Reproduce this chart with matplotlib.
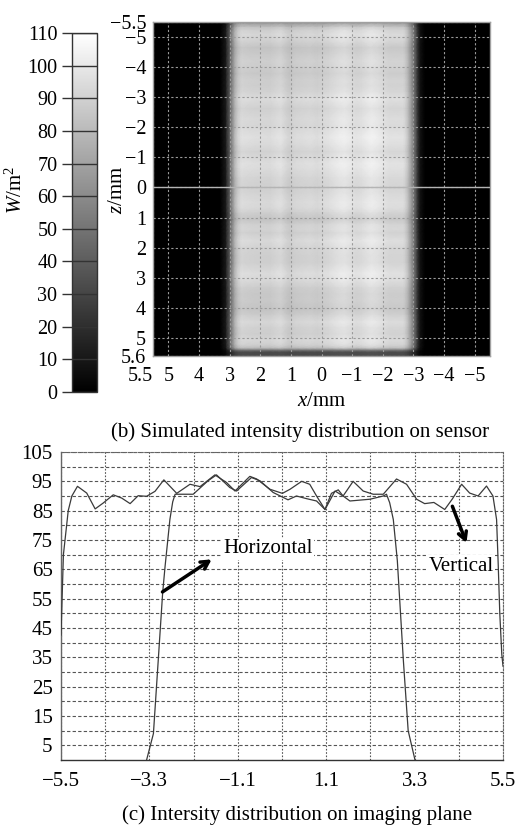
import numpy as np
import matplotlib
matplotlib.use('Agg')
import matplotlib.pyplot as plt
from matplotlib.colors import Normalize

plt.rcParams['font.family'] = ['Liberation Serif', 'DejaVu Serif']
plt.rcParams['mathtext.fontset'] = 'custom'
plt.rcParams['mathtext.rm'] = 'Liberation Serif'
plt.rcParams['mathtext.it'] = 'Liberation Serif:italic'

# ---------------- data ----------------
# Vertical profile (along z)
vert_pos = [-5.5, -5.44, -5.32, -5.23, -5.09, -4.86, -4.65, -4.45, -4.2, -3.99,
            -3.78, -3.58, -3.37, -3.16, -2.94, -2.62, -2.29, -2.04, -1.67, -1.38,
            -1.17, -0.8, -0.63, -0.3, 0.01, 0.2, 0.49, 0.69, 0.86, 1.07,
            1.23, 1.4, 1.52, 1.77, 2.02, 2.27, 2.52, 2.85, 3.1, 3.35,
            3.55, 3.78, 4.05, 4.24, 4.47, 4.67, 4.88, 5.09, 5.25, 5.34,
            5.38, 5.42, 5.47, 5.5]
vert_val = [42.6, 70, 85, 90, 93.3, 91, 85.6, 87.6, 90.4, 89.3,
            87.4, 90.1, 89.9, 91.6, 95.5, 90.9, 94.0, 93.2, 97.2, 94.6,
            91.7, 96.7, 95.8, 92.3, 90.9, 92.3, 95.0, 94.0, 90.0, 85.4,
            90.9, 92.1, 90.0, 95.0, 91.7, 90.6, 90.6, 95.8, 94.0, 88.9,
            87.4, 87.8, 85.4, 89.0, 94.0, 91.0, 90.0, 93.4, 90.0, 82.0,
            67.0, 50.0, 36.0, 32.0]

# Horizontal profile (along x)
horiz_pos = [-3.37, -3.2, -3.08, -2.97, -2.91, -2.85, -2.79, -2.72, -2.66, -2.21,
             -1.84, -1.63, -1.3, -1.13, -0.76, -0.55, -0.22, 0.15, 0.36, 0.61,
             0.86, 1.07, 1.32, 1.52, 1.69, 2.19, 2.52, 2.6, 2.68, 2.77,
             2.87, 3.02, 3.14, 3.31]
horiz_val = [0, 9, 34, 57, 66, 74, 82, 88, 90.6, 90.6,
             95.2, 97.2, 92.9, 91.7, 96.3, 95.2, 91.2, 88.7, 90.0, 89.1,
             88.3, 85.4, 91.7, 90.0, 88.3, 88.9, 90.0, 90.6, 87.7, 82.0,
             68.0, 34.0, 10.0, 0]

cbar_ticks = [0, 10, 20, 30, 40, 50, 60, 70, 80, 90, 100, 110]
img_x_ticks = [5.5, 5, 4, 3, 2, 1, 0, -1, -2, -3, -4, -5]
img_z_ticks = [-5.5, -5, -4, -3, -2, -1, 0, 1, 2, 3, 4, 5, 5.6]
plane_xticks = [-5.5, -3.3, -1.1, 1.1, 3.3, 5.5]
plane_xminor = [-4.4, -2.2, 0, 2.2, 4.4]
plane_yticks = [5, 15, 25, 35, 45, 55, 65, 75, 85, 95, 105]
plane_yminor = [10, 20, 30, 40, 50, 60, 70, 80, 90, 100]

caption_b = '(b) Simulated intensity distribution on sensor'
caption_c = '(c) Intersity distribution on imaging plane'

# ---------------- figure ----------------
W, H = 519, 826
fig = plt.figure(figsize=(W / 100, H / 100), dpi=100)


def ax_px(l, t, r, b):
    return fig.add_axes([l / W, 1 - b / H, (r - l) / W, (b - t) / H])


def fmt(v):
    s = ('%g' % v)
    return s.replace('-', '\u2212')


# ---- image panel ----
ax_img = ax_px(153, 22, 490, 356)
ax_img.set_facecolor('black')
z_limits = (img_z_ticks[0], img_z_ticks[-1])
# mesh rows: the vertical profile, padded by its last value up to the axis edge
z_mesh = np.append(vert_pos, z_limits[1])
v_mesh = np.append(vert_val, vert_val[-1])
Xg, Zg = np.meshgrid(horiz_pos, z_mesh)
C = np.outer(v_mesh, horiz_val) / 90.0
norm = Normalize(0, 110)
mesh = ax_img.pcolormesh(Xg, Zg, C, shading='gouraud', cmap='gray', norm=norm)
ax_img.set_xlim(5.5, -5.5)
ax_img.set_ylim(z_limits[1], z_limits[0])
ax_img.set_xticks(img_x_ticks)
ax_img.set_xticklabels([fmt(v) for v in img_x_ticks])
ax_img.set_yticks(img_z_ticks)
ax_img.set_yticklabels([fmt(v) for v in img_z_ticks])
ax_img.tick_params(axis='both', length=0, labelsize=14.5)
ax_img.tick_params(axis='x', pad=8)
ax_img.tick_params(axis='y', pad=5)
ax_img.xaxis.get_ticklabels()[0].set_ha('right')
ax_img.grid(True, color='#9a9a9a', ls=(0, (2, 2)), lw=0.8)
ax_img.axhline(0, color='#b4b4b4', lw=1.0, zorder=3)
for sp in ax_img.spines.values():
    sp.set_color('#a0a0a0')
    sp.set_linewidth(1.0)
ax_img.set_xlabel('$x/\\mathrm{mm}$', fontsize=15, labelpad=4)
fig.text(117 / W, 1 - 190 / H, '$z/\\mathrm{mm}$', rotation=90,
         ha='center', va='center', fontsize=15)

# ---- colorbar ----
cax = ax_px(72, 33, 97, 392)
cb = fig.colorbar(mesh, cax=cax, ticks=cbar_ticks)
cax.yaxis.set_ticks_position('left')
cax.tick_params(length=7.5, width=1, color='#333333', pad=3, labelsize=14.5)
for t in cbar_ticks:
    cax.axhline(t, color='#333333', lw=1)
cb.outline.set_edgecolor('#333333')
cb.outline.set_linewidth(1)
fig.text(16 / W, 1 - 190 / H, '$W/\\mathrm{m}^2$', rotation=90,
         ha='center', va='center', fontsize=15)

fig.text(300 / W, 1 - 432 / H, caption_b, ha='center', va='center', fontsize=15)

# ---- profile panel ----
ax = ax_px(61, 452, 503, 760)
ax.plot(vert_pos, vert_val, color='#3a3a3a', lw=0.9, zorder=3)
ax.plot(horiz_pos, horiz_val, color='#3a3a3a', lw=0.9, zorder=3)
ax.set_xlim(-5.5, 5.5)
ax.set_ylim(0, 105)
ax.set_xticks(plane_xticks)
ax.set_xticklabels([fmt(v) for v in plane_xticks])
ax.set_xticks(plane_xminor, minor=True)
ax.set_yticks(plane_yticks)
ax.set_yticks(plane_yminor, minor=True)
ax.grid(axis='x', which='both', ls=(0, (1.5, 1.5)), color='#555555', lw=0.8)
ax.grid(axis='y', which='both', ls=(0, (3, 2)), color='#555555', lw=0.8)
ax.tick_params(which='both', length=0, labelsize=15)
ax.tick_params(axis='x', pad=9)
ax.tick_params(axis='y', pad=6)
for side in ['top', 'right']:
    ax.spines[side].set_linestyle((0, (1.5, 1.5)))
    ax.spines[side].set_color('#666666')
    ax.spines[side].set_linewidth(0.8)
ax.spines['left'].set_color('#666666')
ax.spines['left'].set_linewidth(1.0)
ax.spines['bottom'].set_color('#333333')
ax.spines['bottom'].set_linewidth(1.0)

arrow_kw = dict(arrowstyle='->,head_length=0.55,head_width=0.3', lw=2.5, color='black',
                shrinkA=0, shrinkB=0)
ax.annotate('', xy=(-1.75, 68.4), xytext=(-2.975, 57.3), arrowprops=arrow_kw, zorder=5)
ax.text(-1.47, 72, 'Horizontal', ha='left', va='center', fontsize=15, zorder=4,
        bbox=dict(facecolor='white', edgecolor='none', pad=1))
ax.annotate('', xy=(4.59, 74), xytext=(4.24, 86.5), arrowprops=arrow_kw, zorder=5)
ax.text(3.65, 66, 'Vertical', ha='left', va='center', fontsize=15, zorder=4,
        bbox=dict(facecolor='white', edgecolor='none', pad=1))

fig.text(297 / W, 1 - 815 / H, caption_c, ha='center', va='center', fontsize=15)

fig.savefig('out.png', dpi=100)
